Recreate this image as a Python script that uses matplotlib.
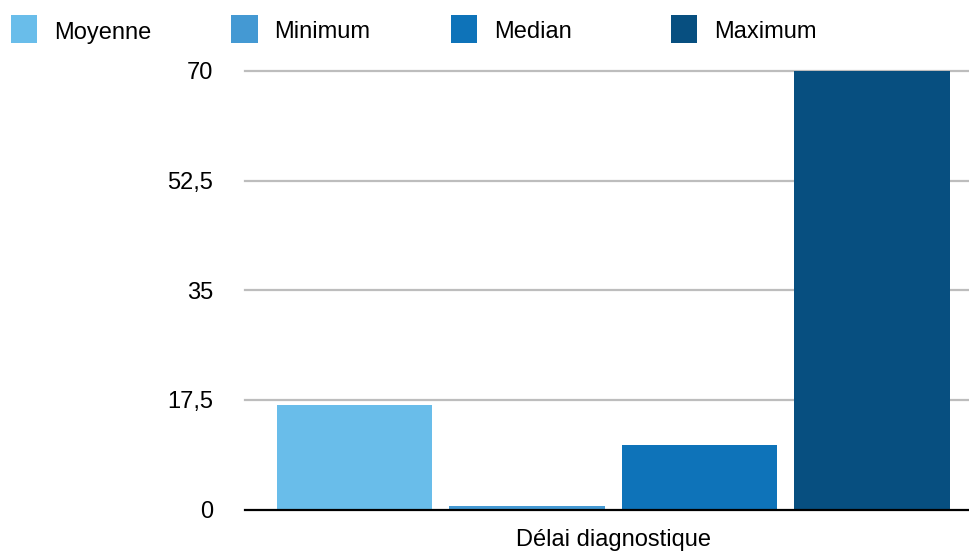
import matplotlib
matplotlib.use("Agg")
import matplotlib.pyplot as plt
from matplotlib.patches import Rectangle

# Data
category = "Délai diagnostique"
series = ["Moyenne", "Minimum", "Median", "Maximum"]
values = [16.7, 0.5, 10.3, 70]
colors = ["#69BDEA", "#4499D3", "#0E73B9", "#074F80"]
yticks = [0, 17.5, 35, 52.5, 70]
ytick_labels = ["0", "17,5", "35", "52,5", "70"]

plt.rcParams["font.family"] = ["Liberation Sans", "DejaVu Sans"]
FS = 17

W, H, DPI = 970, 553, 100
fig = plt.figure(figsize=(W / DPI, H / DPI), dpi=DPI)

px_per_unit = (509.5 - 71) / 70
ax = fig.add_axes([245 / W, 1 - 509.5 / H, 1 - 245 / W, (509.5 - 60) / H])
ax.set_ylim(0, (509.5 - 60) / px_per_unit)

positions = list(range(len(series)))
ax.bar(positions, values, width=0.9, color=colors, zorder=3)
ax.set_xlim(-0.635, 3.568)

# Grid and baseline
for t in yticks[1:]:
    ax.axhline(t, color="#BDBDBD", lw=1.6, zorder=1, clip_on=False)
ax.axhline(0, color="black", lw=1.6, zorder=4, clip_on=False)

ax.set_yticks(yticks)
ax.set_yticklabels(ytick_labels, fontsize=FS)
ax.tick_params(axis="y", length=0, pad=23)
ax.set_xticks([1.5])
ax.set_xticklabels([category], fontsize=FS)
ax.tick_params(axis="x", length=0, pad=14)
for s in ax.spines.values():
    s.set_visible(False)

# Legend drawn across the top
for i, (name, col) in enumerate(zip(series, colors)):
    x0 = 11 + i * 220
    fig.add_artist(Rectangle((x0 / W, 1 - 42.5 / H), 26.5 / W, 27.5 / H,
                             transform=fig.transFigure, facecolor=col,
                             edgecolor="none"))
    fig.text((x0 + 43) / W, 1 - 38.5 / H, name, fontsize=FS,
             va="baseline", ha="left")

fig.savefig("out.png", dpi=DPI)
